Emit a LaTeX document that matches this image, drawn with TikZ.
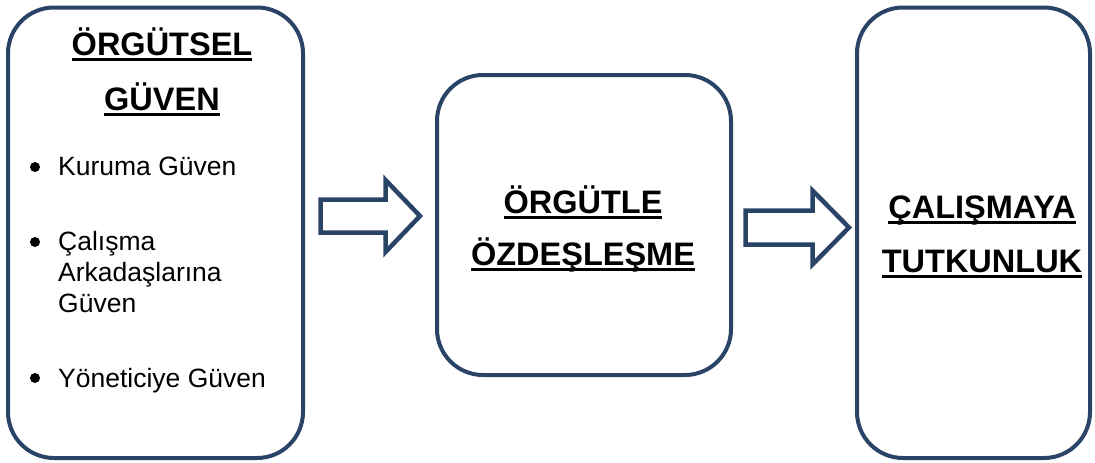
\documentclass[tikz,border=0pt]{standalone}
\usepackage{fontspec}
\setmainfont{Liberation Sans}
\definecolor{navy}{HTML}{2A4468}
\newcommand\myul[1]{\setbox0\hbox{#1}\rlap{\rule[-0.19em]{\wd0}{0.09em}}\box0}
\tikzset{
  box/.style={draw=navy, line width=4pt, rounded corners=46pt, fill=white},
  blockarrow/.style={draw=navy, line width=4.5pt, fill=white, line join=miter},
  title/.style={anchor=base, inner sep=0pt, font=\fontsize{32.5}{36}\selectfont\bfseries},
  item/.style={anchor=base west, inner sep=0pt, font=\fontsize{26.5}{30}\selectfont},
  dot/.style={circle, fill=black, inner sep=0pt, minimum size=10pt}
}
\begin{document}
\begin{tikzpicture}[x=1pt,y=-1pt]
\useasboundingbox (0,0) rectangle (1095,463);
% boxes
\draw[box] (8,7.5) rectangle (303,458);
\draw[box] (437,75) rectangle (731,375);
\draw[box] (857,7.5) rectangle (1090,458);
% block arrows
\draw[blockarrow] (320.5,199.5) coordinate (a1s) -- (385.5,199.5) -- (385.5,180) -- (420,216) coordinate (a1t) -- (385.5,252) -- (385.5,232.5) -- (320.5,232.5) -- cycle;
\draw[blockarrow] (745.5,210.5) coordinate (a2s) -- (812.5,210.5) -- (812.5,190.5) -- (849,227.5) coordinate (a2t) -- (812.5,264.5) -- (812.5,244.5) -- (745.5,244.5) -- cycle;
% box 1 text
\node[title] (t1a) at (162,55) {\myul{ÖRGÜTSEL}};
\node[title] (t1b) at (162,110) {\myul{GÜVEN}};
\node[dot] (d1) at (35,167) {};
\node[item] (i1) at (58,175) {Kuruma Güven};
\node[dot] (d2) at (35,242) {};
\node[item] (i2a) at (58,250) {Çalışma};
\node[item] (i2b) at (58,281) {Arkadaşlarına};
\node[item] (i2c) at (58,312) {Güven};
\node[dot] (d3) at (35,378) {};
\node[item] (i3) at (58,387) {Yöneticiye Güven};
% box 2 text
\node[title] (t2a) at (583,213) {\myul{ÖRGÜTLE}};
\node[title] (t2b) at (583,265) {\myul{ÖZDEŞLEŞME}};
% box 3 text
\node[title] (t3a) at (982,218) {\myul{ÇALIŞMAYA}};
\node[title] (t3b) at (982,272) {\myul{TUTKUNLUK}};
\end{tikzpicture}
\end{document}
